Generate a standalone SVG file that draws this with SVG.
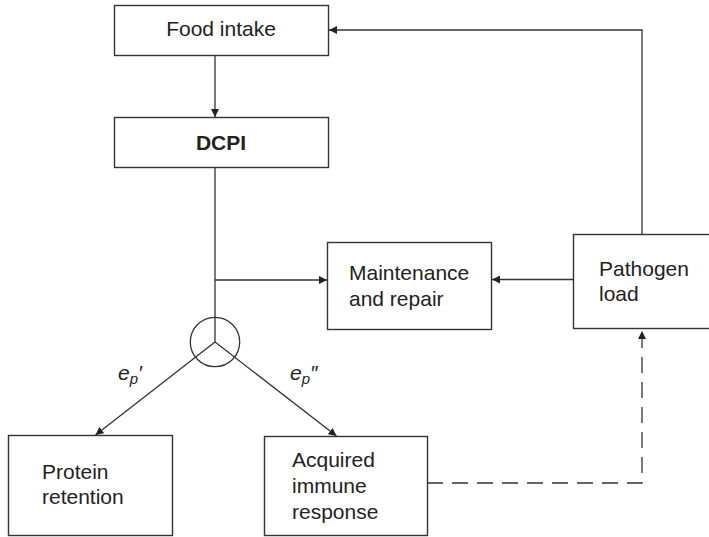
<svg xmlns="http://www.w3.org/2000/svg" width="709" height="537" viewBox="0 0 709 537">
<style>
.box{fill:#fff;stroke:#333;stroke-width:1.4}
.t{font-family:"Liberation Sans",Arial,sans-serif;font-size:21px;fill:#222}
.b{font-weight:bold}
.ln{fill:none;stroke:#333;stroke-width:1.3}
.dash{stroke-dasharray:16 9}
.lab{font-family:"Liberation Sans",Arial,sans-serif;font-size:21px;font-style:italic;fill:#222}
</style>
<defs>
<marker id="ah" viewBox="0 0 10 10" refX="10" refY="5" markerWidth="8" markerHeight="8" markerUnits="userSpaceOnUse" orient="auto">
<path d="M0,0 L10,5 L0,10 z" fill="#222"/>
</marker>
</defs>
<rect width="709" height="537" fill="#fff"/>
<g id="connectors">
<path class="ln" d="M215,55 V117" marker-end="url(#ah)"/>
<path class="ln" d="M215,167 V342"/>
<path class="ln" d="M215,280 H327" marker-end="url(#ah)"/>
<path class="ln" d="M573,279.5 H492" marker-end="url(#ah)"/>
<path class="ln" d="M642,234 V30 H329" marker-end="url(#ah)"/>
<path class="ln" d="M215,342 L95.5,435" marker-end="url(#ah)"/>
<path class="ln" d="M215,342 L336.5,436" marker-end="url(#ah)"/>
<path class="ln dash" d="M427,483 H642 V331" marker-end="url(#ah)"/>
</g>
<g id="node-split">
<circle cx="215" cy="342" r="24.7" class="ln"/>
</g>
<g id="node-food">
<rect class="box" x="114.5" y="5.5" width="214" height="50"/>
<text class="t" x="221" y="36" text-anchor="middle">Food intake</text>
</g>
<g id="node-dcpi">
<rect class="box" x="114.5" y="117.5" width="214" height="50"/>
<text class="t b" x="221" y="150" text-anchor="middle">DCPI</text>
</g>
<g id="node-maint">
<rect class="box" x="327.5" y="242.5" width="164" height="87"/>
<text class="t" x="349" y="280">Maintenance</text>
<text class="t" x="349" y="306">and repair</text>
</g>
<g id="node-pathogen">
<rect class="box" x="573.5" y="234.5" width="140" height="94"/>
<text class="t" x="599" y="276">Pathogen</text>
<text class="t" x="599" y="301">load</text>
</g>
<g id="node-protein">
<rect class="box" x="8.5" y="435.5" width="164" height="100"/>
<text class="t" x="42" y="479">Protein</text>
<text class="t" x="42" y="504">retention</text>
</g>
<g id="node-acquired">
<rect class="box" x="264.5" y="436.5" width="163" height="99"/>
<text class="t" x="292" y="467">Acquired</text>
<text class="t" x="292" y="493">immune</text>
<text class="t" x="292" y="519">response</text>
</g>
<g id="labels">
<text class="lab" x="118" y="380">e<tspan font-size="15" dy="4">p</tspan><tspan dy="-4">′</tspan></text>
<text class="lab" x="290" y="380">e<tspan font-size="15" dy="4">p</tspan><tspan dy="-4">″</tspan></text>
</g>
</svg>
